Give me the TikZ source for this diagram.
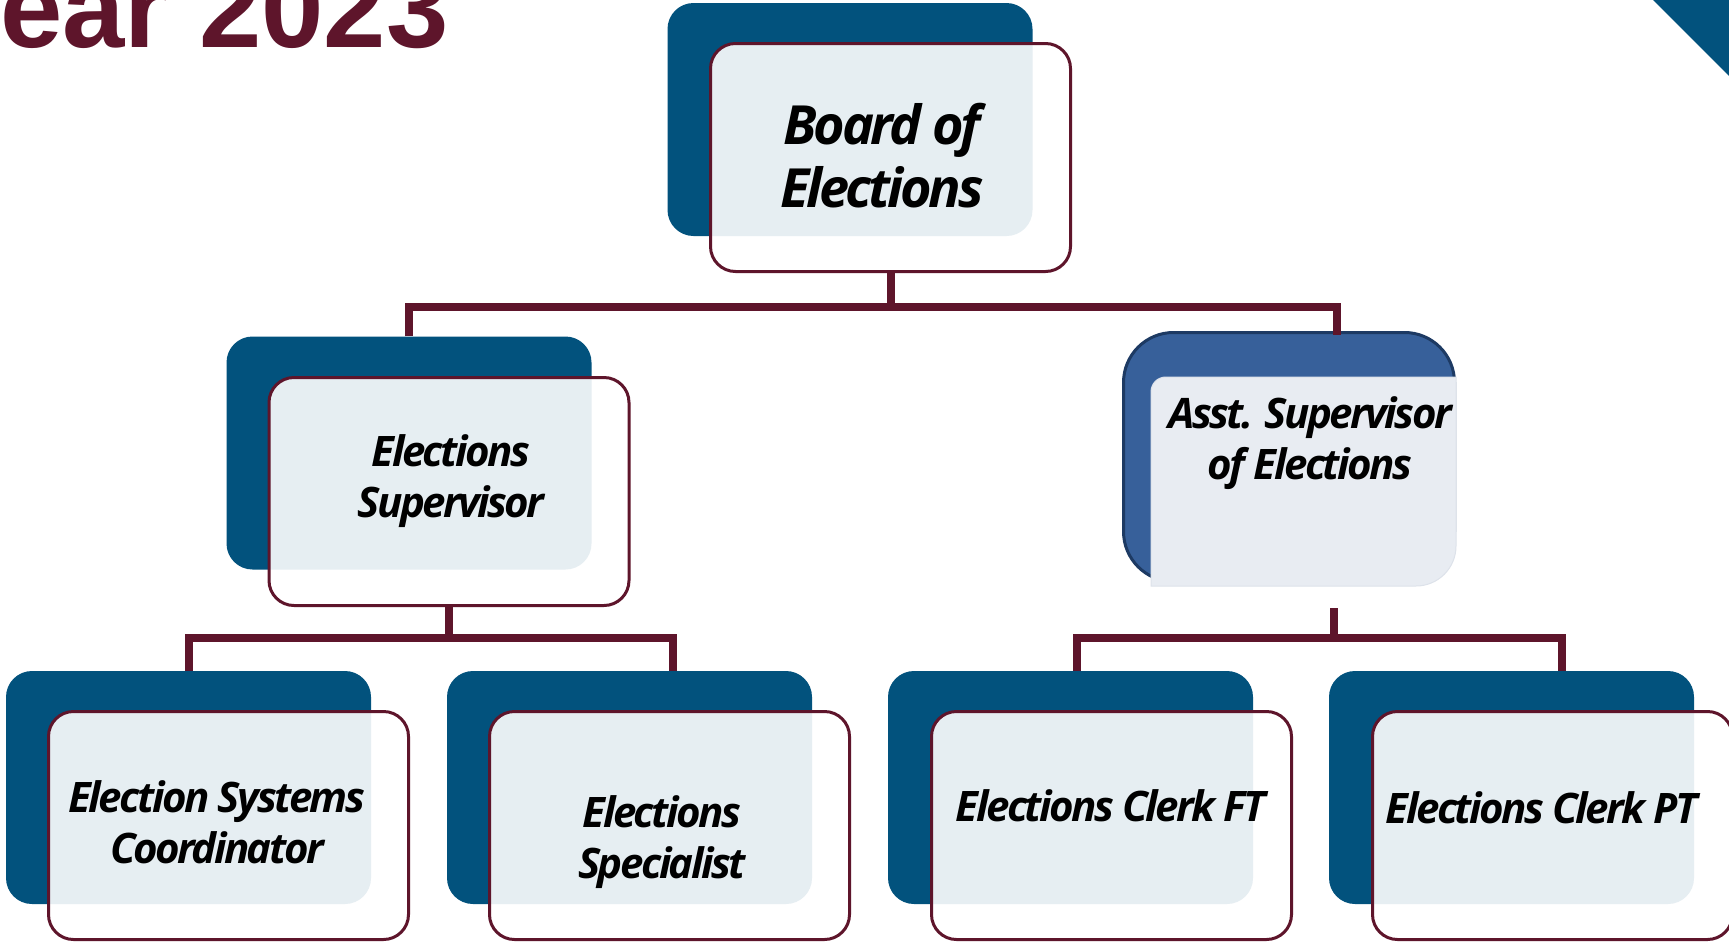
\documentclass[tikz,border=0pt]{standalone}
\usepackage{fontspec}
\newfontfamily\boxfont{Open Sans}[LetterSpace=-6]
\newfontfamily\titlefont{Liberation Sans}
\definecolor{boxblue}{HTML}{02527D}
\definecolor{wine}{HTML}{5E152B}
\definecolor{asstblue}{HTML}{37609A}
\definecolor{asstborder}{HTML}{1D3A63}
\definecolor{asstlight}{HTML}{E8ECF2}
\definecolor{asstedge}{HTML}{DDE2EA}
\tikzset{
  backbox/.style={rectangle, rounded corners=26pt, fill=boxblue, minimum width=365pt, minimum height=233pt, inner sep=0pt},
  frontbox/.style={rectangle, rounded corners=25pt, draw=wine, line width=3pt, fill=white, fill opacity=0.9, minimum width=360pt, minimum height=228pt, inner sep=0pt},
  role/.style={font=\boxfont\bfseries\itshape\fontsize{42}{51}\selectfont, align=center, inner sep=0pt, text=black},
  bigrole/.style={role, font=\boxfont\bfseries\itshape\fontsize{54}{63}\selectfont},
  conn/.style={draw=wine, line width=8pt},
}
\begin{document}
\begin{tikzpicture}[x=1pt, y=-1pt]
\useasboundingbox (0,0) rectangle (1729,943);
\clip (0,0) rectangle (1729,943);
\fill[white] (0,0) rectangle (1729,943);

% title fragment and corner triangle
\node[anchor=base west, inner sep=0pt, text=wine, font=\titlefont\bfseries\fontsize{112}{112}\selectfont] (title) at (0,47) {ear 2023};
\fill[boxblue] (1653,0) -- (1729,0) -- (1729,76) -- cycle;

% back boxes
\node[backbox] (bBoard) at (850,119.5) {};
\node[backbox] (bES) at (409,453) {};
\node[backbox] (bESC) at (188.5,787.5) {};
\node[backbox] (bSpec) at (629.5,787.5) {};
\node[backbox] (bFT) at (1070.5,787.5) {};
\node[backbox] (bPT) at (1511.5,787.5) {};

% front boxes
\node[frontbox] (fBoard) at (890.5,157.5) {};
\node[frontbox] (fES) at (449,491.5) {};
\node[frontbox] (fESC) at (228.5,825.5) {};
\node[frontbox] (fSpec) at (669.5,825.5) {};
\node[frontbox] (fFT) at (1111.5,825.5) {};
\node[frontbox] (fPT) at (1552.5,825.5) {};

% assistant supervisor box
\node[rectangle, rounded corners=50pt, fill=asstblue, draw=asstborder, line width=3pt, minimum width=331pt, minimum height=249pt, inner sep=0pt] (asst) at (1289,457) {};
\filldraw[fill=asstlight, draw=asstedge, line width=1pt] (1151,586) -- (1151,392) .. controls (1151,383.7) and (1157.3,377) .. (1166,377) -- (1456,377) -- (1456,546) .. controls (1456,568.1) and (1438.1,586) .. (1416,586) -- cycle;

% texts
\node[bigrole] (tBoard) at (882,156) {Board of\\Elections};
\node[role] (tES) at (451,481.5) {Elections\\Supervisor};
\node[role] (tAsst) at (1310,443) {Asst. Supervisor\\of Elections};
\node[role] (tESC) at (217,822) {Election Systems\\Coordinator};
\node[role] (tSpec) at (662,842) {Elections\\Specialist};
\node[role, anchor=base] (tFT) at (1111,821) {Elections Clerk FT};
\node[role, anchor=base] (tPT) at (1542,823) {Elections Clerk PT};

% connectors
\coordinate (asstIn) at (1337,335);
\coordinate (specIn) at (673,671);
\coordinate (asstStub) at (1334,608);
\coordinate (ftIn) at (1077,671);
\coordinate (ptIn) at (1562,671);

\draw[conn] (fBoard.south) -- ++(0,34) coordinate (bus1);
\draw[conn] (bES.north) |- (bus1) -| (asstIn);

\draw[conn] (fES.south) -- ++(0,31) coordinate (bus2);
\draw[conn] (bESC.north) |- (bus2) -| (specIn);

\draw[conn] (asstStub) -- ++(0,30) coordinate (bus3);
\draw[conn] (ftIn) |- (bus3) -| (ptIn);
\end{tikzpicture}
\end{document}
